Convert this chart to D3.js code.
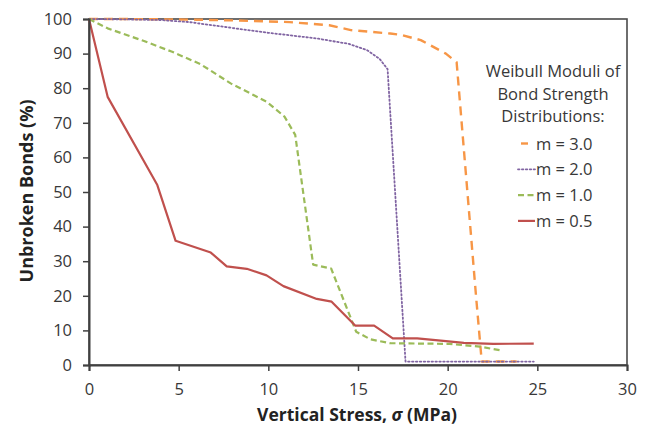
<!DOCTYPE html>
<html>
<head>
<meta charset="utf-8">
<script src="https://cdn.jsdelivr.net/npm/d3@7"></script>
<style>
  html, body { margin: 0; padding: 0; background: #fff; }
  svg { display: block; }
  text { font-family: "Open Sans", "Noto Sans", sans-serif; }
</style>
</head>
<body>
<svg id="chart" width="645" height="430"></svg>
<script>
// Vertical stress (MPa) and percentage of unbroken bonds for each Weibull modulus
const m30Stress = [0, 2, 4, 6, 8, 10, 11.2, 13.4, 14.6, 16.8, 17.4, 18.5, 19.9, 20.5, 21.6, 21.9, 23.85];
const m30Bonds  = [100, 100, 99.9, 99.8, 99.6, 99.3, 99.1, 98.2, 96.8, 95.8, 95.4, 93.9, 90.0, 87.5, 18.8, 1.0, 1.0];

const m20Stress = [0, 2, 4, 5.6, 8, 10, 11.2, 12.8, 14.5, 15.5, 16.2, 16.65, 17.65, 24.8];
const m20Bonds  = [100, 99.9, 99.7, 99.1, 97.4, 96.0, 95.3, 94.3, 92.8, 91.0, 88.5, 85.5, 1.0, 1.0];

const m10Stress = [0, 1.04, 3.03, 4.6, 6.2, 7.9, 9.9, 10.9, 11.5, 12.5, 13.5, 14.9, 15.7, 16.8, 20.1, 21.8, 22.9];
const m10Bonds  = [100, 97.3, 93.7, 90.6, 87.0, 81.4, 76.1, 71.8, 66.5, 29.0, 27.9, 9.6, 7.4, 6.3, 6.1, 5.3, 4.3];

const m05Stress = [0, 1.04, 3.81, 4.83, 6.79, 7.68, 8.8, 9.9, 10.84, 12.7, 13.53, 14.84, 15.9, 16.94, 18.3, 19.76, 20.9, 22.55, 24.8];
const m05Bonds  = [100, 77.5, 52.0, 35.9, 32.5, 28.5, 27.8, 25.9, 22.8, 19.1, 18.3, 11.4, 11.4, 7.7, 7.7, 7.0, 6.4, 6.1, 6.2];

const xTicks = [0, 5, 10, 15, 20, 25, 30];
const yTicks = [0, 10, 20, 30, 40, 50, 60, 70, 80, 90, 100];

const legendTitle = ["Weibull Moduli of", "Bond Strength", "Distributions:"];
const seriesLabels = ["m = 3.0", "m = 2.0", "m = 1.0", "m = 0.5"];

const series = [
  { label: seriesLabels[0], x: m30Stress, y: m30Bonds, color: "#F79646", width: 2.4, dash: "9,6", dotted: false },
  { label: seriesLabels[1], x: m20Stress, y: m20Bonds, color: "#8064A2", width: 1.8, dash: "1.5,2.4", dotted: true },
  { label: seriesLabels[2], x: m10Stress, y: m10Bonds, color: "#9BBB59", width: 2.2, dash: "6,3.5", dotted: false },
  { label: seriesLabels[3], x: m05Stress, y: m05Bonds, color: "#C0504D", width: 2.2, dash: null, dotted: false }
];

const svg = d3.select("#chart");
const margin = { left: 89, right: 18, top: 19, bottom: 65 };
const W = 645, H = 430;

const x = d3.scaleLinear().domain([0, 30]).range([margin.left, W - margin.right]);
const y = d3.scaleLinear().domain([0, 100]).range([H - margin.bottom, margin.top]);

const axisColor = "#404040";
const textColor = "#383838";

// plot frame (top and right edges)
svg.append("rect")
  .attr("x", x(0)).attr("y", y(100))
  .attr("width", x(30) - x(0)).attr("height", y(0) - y(100))
  .attr("fill", "none").attr("stroke", "#4a4a4a").attr("stroke-width", 1.6);

// series lines
const line = d3.line().x(d => x(d[0])).y(d => y(d[1]));
series.forEach(s => {
  const pts = s.x.map((v, i) => [v, s.y[i]]);
  svg.append("path")
    .datum(pts)
    .attr("d", line)
    .attr("fill", "none")
    .attr("stroke", s.color)
    .attr("stroke-width", s.width)
    .attr("stroke-dasharray", s.dash)
    .attr("stroke-linecap", s.dotted ? "round" : "butt")
    .attr("stroke-linejoin", "round");
});

// axes
const xAxis = d3.axisBottom(x).tickValues(xTicks).tickSize(6).tickPadding(12).tickFormat(d3.format("d"));
const yAxis = d3.axisLeft(y).tickValues(yTicks).tickSize(6).tickPadding(11).tickFormat(d3.format("d"));

const gx = svg.append("g").attr("transform", `translate(0,${y(0)})`).call(xAxis);
const gy = svg.append("g").attr("transform", `translate(${x(0)},0)`).call(yAxis);

[gx, gy].forEach(g => {
  g.select(".domain").attr("stroke", axisColor).attr("stroke-width", 2);
  g.selectAll(".tick line").attr("stroke", axisColor).attr("stroke-width", 1.5);
  g.selectAll(".tick text").attr("fill", textColor).style("font-size", "16.5px")
    .style("font-family", "'Open Sans', sans-serif");
});

// axis titles
svg.append("text")
  .attr("x", 357).attr("y", 421)
  .attr("text-anchor", "middle")
  .attr("fill", "#222")
  .style("font-size", "17.5px").style("font-weight", "bold")
  .call(t => {
    t.append("tspan").text("Vertical Stress, ");
    t.append("tspan").style("font-style", "italic").text("σ");
    t.append("tspan").text(" (MPa)");
  });

svg.append("text")
  .attr("transform", `translate(33,191) rotate(-90)`)
  .attr("text-anchor", "middle")
  .attr("fill", "#222")
  .style("font-size", "18px").style("font-weight", "bold")
  .text("Unbroken Bonds (%)");

// legend
const lg = svg.append("g");
legendTitle.forEach((t, i) => {
  lg.append("text")
    .attr("x", 553).attr("y", 77 + i * 22.5)
    .attr("text-anchor", "middle")
    .attr("fill", textColor)
    .style("font-size", "16.5px")
    .text(t);
});
series.forEach((s, i) => {
  const cy = 143.5 + i * 25.8;
  const single = i === 0;   // the long-dash sample shows as one dash
  lg.append("line")
    .attr("x1", single ? 521 : 518).attr("x2", single ? 528 : 535)
    .attr("y1", cy).attr("y2", cy)
    .attr("stroke", s.color)
    .attr("stroke-width", s.width)
    .attr("stroke-dasharray", single ? null : s.dash)
    .attr("stroke-linecap", s.dotted ? "round" : "butt");
  lg.append("text")
    .attr("x", 536).attr("y", cy + 6)
    .attr("fill", textColor)
    .style("font-size", "16.5px")
    .text(s.label);
});
</script>
</body>
</html>
